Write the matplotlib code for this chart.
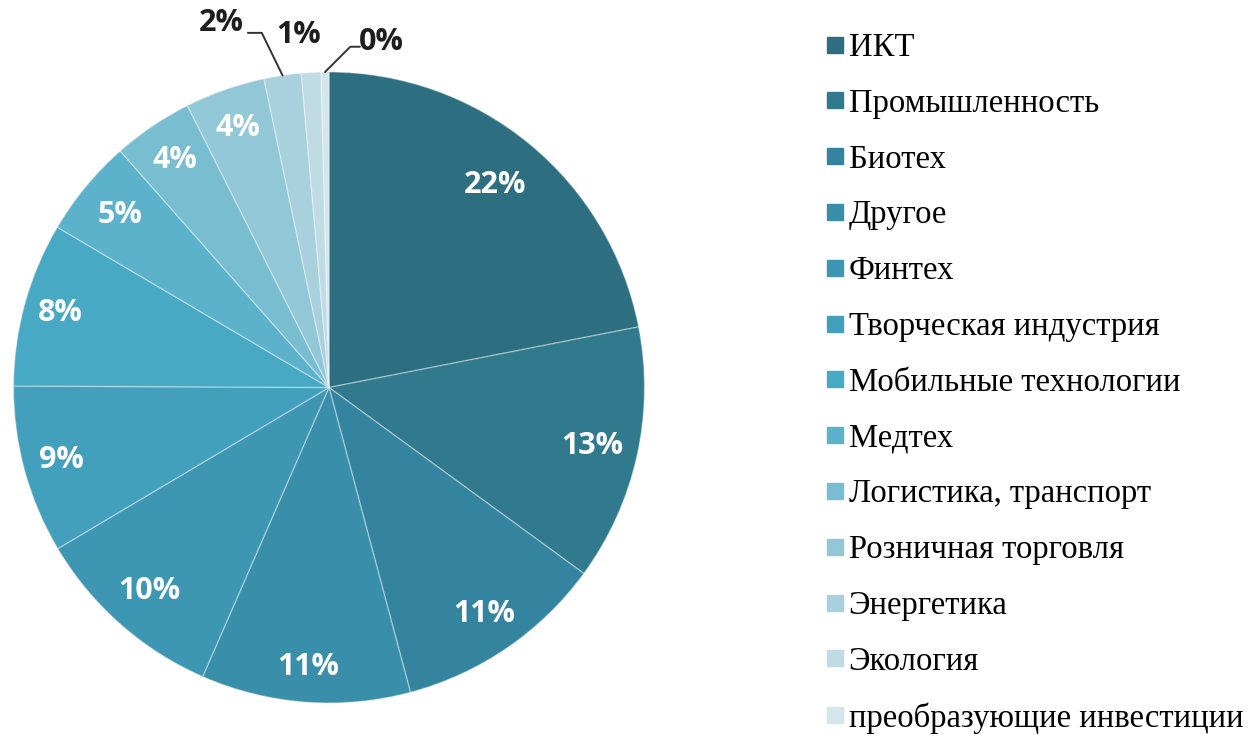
import matplotlib.pyplot as plt
import numpy as np
from matplotlib.lines import Line2D

# Sector shares, percent
sectors = [
    "ИКТ",
    "Промышленность",
    "Биотех",
    "Другое",
    "Финтех",
    "Творческая индустрия",
    "Мобильные технологии",
    "Медтех",
    "Логистика, транспорт",
    "Розничная торговля",
    "Энергетика",
    "Экология",
    "преобразующие инвестиции",
]
shares = [21.9, 13.1, 10.8, 10.7, 9.9, 8.6, 8.4, 5.0, 4.1, 4.1, 1.9, 1.0, 0.4]

colors = [
    "#2d6e80", "#317a8d", "#3484a0", "#398eaa", "#3d97b3", "#42a0bc",
    "#47a9c4", "#5cb2ca", "#78bdd0", "#92c7d7", "#a9d0dd", "#bfdbe4", "#d4e6ec",
]

# radial position of each inside label (fraction of radius)
label_r = [0.83, 0.855, 0.87, 0.89, 0.86, 0.88, 0.885, 0.86, 0.87, 0.87]
# thin slices get their labels outside: text centre, leader start, leader bend angle
outside = {
    10: ((-0.342, 1.155), (-0.257, 1.124), 116),
    11: ((-0.095, 1.117), None, None),
    12: ((0.165, 1.095), (0.098, 1.080), 45),
}

fig = plt.figure(figsize=(12.58, 7.49), dpi=100)
ax = fig.add_axes([0.01073, 0.0614, 0.5016, 0.8425])

wedges, _ = ax.pie(
    shares, colors=colors, startangle=90, counterclock=False, radius=1.0,
    wedgeprops=dict(edgecolor=(1, 1, 1, 0.35), linewidth=1.0),
)
ax.set_xlim(-1, 1)
ax.set_ylim(-1, 1)
ax.set_aspect("equal")

lab_font = dict(family="Open Sans", fontweight="bold", fontsize=22)

for i, (w, v) in enumerate(zip(wedges, shares)):
    mid = np.deg2rad((w.theta1 + w.theta2) / 2)
    txt = f"{round(v):d}%"
    if i in outside:
        (tx, ty), start, angb = outside[i]
        ax.text(tx, ty, txt, ha="center", va="center", color="#1e1e1e", **lab_font)
        if start is not None:
            ax.annotate(
                "", xy=(np.cos(mid), np.sin(mid)), xytext=start, annotation_clip=False,
                arrowprops=dict(arrowstyle="-", color="#333333", lw=1.4,
                                shrinkA=0, shrinkB=0,
                                connectionstyle=f"angle,angleA=0,angleB={angb},rad=0"),
            )
    else:
        r = label_r[i]
        ax.text(r * np.cos(mid), r * np.sin(mid), txt, ha="center", va="center",
                color="white", **lab_font)

handles = [
    Line2D([], [], linestyle="none", marker="s", markersize=12,
           markerfacecolor=c, markeredgecolor=c)
    for c in colors
]
fig.legend(
    handles, sectors, loc="upper left", bbox_to_anchor=(0.6455, 0.974),
    frameon=False, handlelength=0.6, handletextpad=0.12, labelspacing=0.775,
    prop=dict(family="Liberation Serif", size=23.5), borderaxespad=0,
)

fig.savefig("out.png", dpi=100)
